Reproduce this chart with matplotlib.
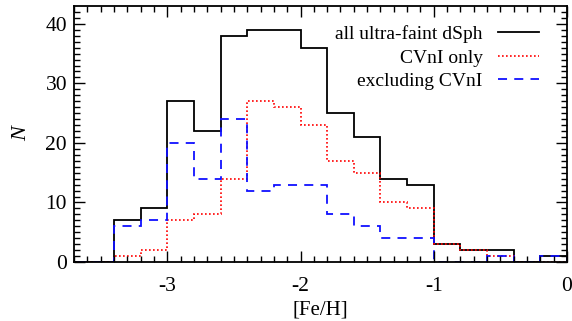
import numpy as np
import matplotlib
matplotlib.use('Agg')
import matplotlib.pyplot as plt

# [Fe/H] bin edges, 0.2 dex wide
edges = np.round(np.arange(-3.8, 0.01, 0.2), 1)

# counts per bin (first two bins empty)
n_all = [0, 0, 7, 9, 27, 22, 38, 39, 39, 36, 25, 21, 14, 13, 3, 2, 2, 0, 1]
n_cvn = [0, 0, 1, 2, 7, 8, 14, 27, 26, 23, 17, 15, 10, 9, 3, 2, 1, 0, 0]
n_exc = [0, 0, 6, 7, 20, 14, 24, 12, 13, 13, 8, 6, 4, 4, 0, 0, 1, 0, 1]

plt.rcParams['font.family'] = ['Liberation Serif', 'DejaVu Serif']
plt.rcParams['font.size'] = 14
plt.rcParams['axes.unicode_minus'] = False

fig = plt.figure(figsize=(5.72, 3.21), dpi=100)
ax = fig.add_axes([74/572, 1 - 262/321, (567-74)/572, (262-6)/321])

ax.stairs(n_all, edges, color='k', lw=1.3, label='all ultra-faint dSph')
ax.stairs(n_cvn, edges, color='#ff0000', lw=1.2, ls=(0, (1, 1.4)), label='CVnI only')
ax.stairs(n_exc, edges, color='#1010ff', lw=1.3, ls=(0, (5, 4)), label='excluding CVnI')

ax.set_xlim(-3.7, 0)
ax.set_ylim(0, 43)
ax.set_xticks([-3, -2, -1, 0])
ax.set_xticks(np.arange(-3.7, 0.01, 0.1), minor=True)
ax.set_yticks([0, 10, 20, 30, 40])
ax.set_yticks(np.arange(0, 43, 1), minor=True)
ax.tick_params(which='both', direction='in', top=True, right=True, width=1,
               labelsize=15.5)
ax.tick_params(which='major', length=8)
ax.tick_params(which='minor', length=4)
ax.tick_params(axis='x', pad=11)
ax.tick_params(axis='y', pad=5)
for s in ax.spines.values():
    s.set_linewidth(1.3)

ax.set_xlabel('[Fe/H]', labelpad=3, fontsize=15)
ax.set_ylabel('N', labelpad=10, fontsize=16, style='italic')

ax.legend(loc='upper right', frameon=False, markerfirst=False, handlelength=2.1,
          handletextpad=0.8, labelspacing=0.3, borderaxespad=0.4,
          bbox_to_anchor=(0.975, 0.985))

fig.savefig('out.png', dpi=100)
